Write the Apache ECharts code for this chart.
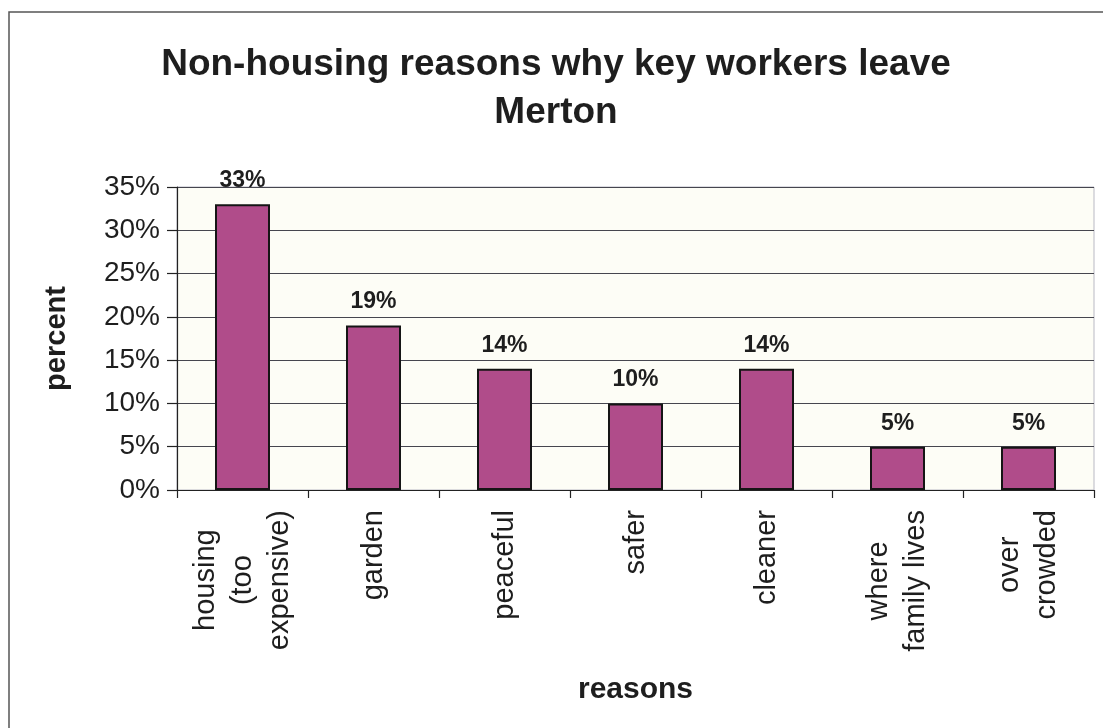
<!DOCTYPE html>
<html>
<head>
<meta charset="utf-8">
<title>Non-housing reasons why key workers leave Merton</title>
<script src="https://cdn.jsdelivr.net/npm/echarts@6/dist/echarts.min.js"></script>
<style>
  html, body { margin: 0; padding: 0; background: #ffffff; }
  #chart { width: 1103px; height: 728px; }
</style>
</head>
<body>
<div id="chart"></div>
<script>
// Reasons given (lines separated by \n are wrapped labels)
const categories = [
  'housing\n(too\nexpensive)',
  'garden',
  'peaceful',
  'safer',
  'cleaner',
  'where\nfamily lives',
  'over\ncrowded'
];
// Share of key workers citing each reason, in percent
const percentValues = [33, 19, 14, 10, 14, 5, 5];
// Value axis range and step (percent)
const yMin = 0;
const yMax = 35;
const yStep = 5;

const FONT = '"Liberation Sans", Arial, Helvetica, sans-serif';
const TEXT = '#1e1e1e';

const chart = echarts.init(document.getElementById('chart'), null, { renderer: 'canvas' });

chart.setOption({
  backgroundColor: '#ffffff',
  animation: false,
  title: {
    text: 'Non-housing reasons why key workers leave\nMerton',
    left: 551,
    top: 36,
    textAlign: 'center',
    textStyle: {
      fontFamily: FONT,
      fontSize: 37,
      fontWeight: 'bold',
      lineHeight: 48,
      color: TEXT
    }
  },
  grid: {
    left: 177,
    top: 187,
    right: 9,
    bottom: 238,
    show: true,
    backgroundColor: '#fdfdf6',
    borderColor: '#b9b9c4',
    borderWidth: 1
  },
  xAxis: {
    type: 'category',
    data: categories,
    name: 'reasons',
    nameLocation: 'middle',
    nameGap: 185,
    nameTextStyle: {
      fontFamily: FONT,
      fontSize: 30,
      fontWeight: 'bold',
      color: TEXT
    },
    axisLine: { show: true, lineStyle: { color: '#222', width: 1.2 } },
    axisTick: { show: true, length: 8, lineStyle: { color: '#222', width: 1.2 } },
    axisLabel: {
      rotate: 90,
      margin: 20,
      interval: 0,
      fontFamily: FONT,
      fontSize: 29,
      color: TEXT,
      // each wrapped line is centred within the label block
      formatter: function (v) {
        return v.split('\n').map(function (s) { return '{c|' + s + '}'; }).join('\n');
      },
      rich: {
        c: {
          align: 'center',
          fontFamily: FONT,
          fontSize: 29,
          lineHeight: 37,
          color: TEXT
        }
      }
    }
  },
  yAxis: {
    type: 'value',
    min: yMin,
    max: yMax,
    interval: yStep,
    name: 'percent',
    nameLocation: 'middle',
    nameRotate: 90,
    nameGap: 106,
    nameTextStyle: {
      fontFamily: FONT,
      fontSize: 29,
      fontWeight: 'bold',
      color: TEXT
    },
    axisLine: { show: true, lineStyle: { color: '#222', width: 1.2 } },
    axisTick: { show: true, length: 10, lineStyle: { color: '#222', width: 1.2 } },
    axisLabel: {
      margin: 17,
      fontFamily: FONT,
      fontSize: 28,
      color: TEXT,
      formatter: '{value}%'
    },
    splitLine: { show: true, lineStyle: { color: '#46464f', width: 1.2 } }
  },
  series: [{
    type: 'bar',
    data: percentValues,
    barWidth: 55,
    itemStyle: {
      color: '#b04c8a',
      borderColor: '#151515',
      borderWidth: 2
    },
    label: {
      show: true,
      position: 'top',
      distance: 12,
      formatter: '{c}%',
      fontFamily: FONT,
      fontSize: 23,
      fontWeight: 'bold',
      color: TEXT
    }
  }],
  graphic: [{
    type: 'rect',
    silent: true,
    shape: { x: 9, y: 12, width: 1200, height: 800 },
    style: { fill: 'none', stroke: '#555', lineWidth: 1.5 }
  }]
});
</script>
</body>
</html>
